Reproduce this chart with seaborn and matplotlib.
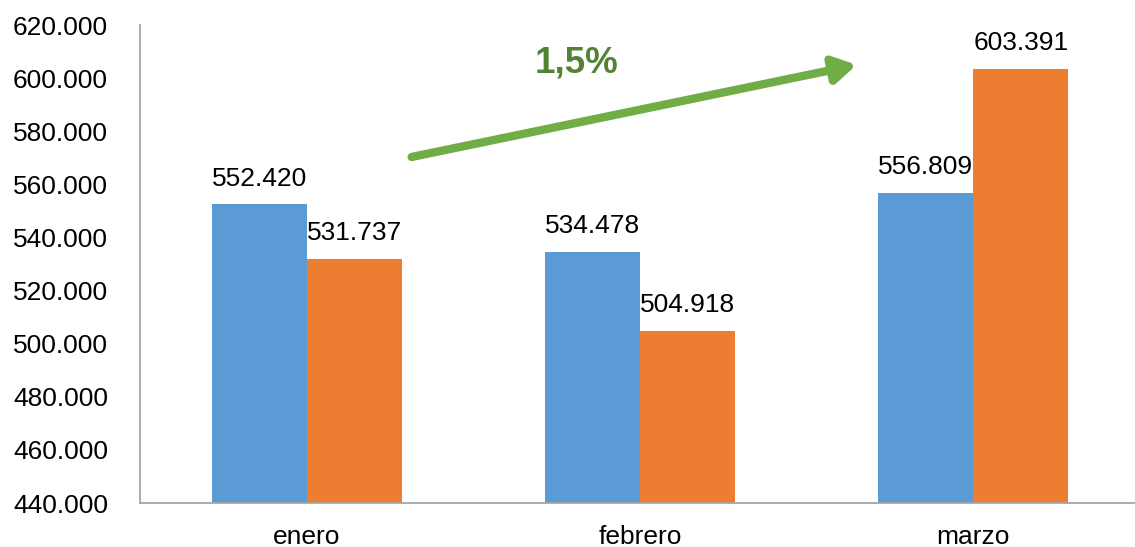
import matplotlib
matplotlib.use("Agg")
import matplotlib.pyplot as plt
import seaborn as sns
import pandas as pd

months = ["enero", "febrero", "marzo"]
series_names = ["Serie 1", "Serie 2"]
serie1 = [552420, 534478, 556809]
serie2 = [531737, 504918, 603391]
y_ticks = [440000, 460000, 480000, 500000, 520000, 540000, 560000, 580000, 600000, 620000]
growth_label = "1,5%"

df = pd.DataFrame({
    "mes": months * 2,
    "serie": [series_names[0]] * 3 + [series_names[1]] * 3,
    "valor": serie1 + serie2,
})

sns.set_theme(style="white")
plt.rcParams["font.family"] = ["Liberation Sans", "DejaVu Sans"]

fig = plt.figure(figsize=(11.35, 5.47), dpi=100)
ax = fig.add_axes([140 / 1135, 1 - 503 / 547, 1000 / 1135, (503 - 25) / 547])

palette = {series_names[0]: "#5B9BD5", series_names[1]: "#ED7D31"}
sns.barplot(data=df, x="mes", y="valor", hue="serie", palette=palette,
            width=0.57, saturation=1, linewidth=0, ax=ax, legend=False)

ax.set_ylim(y_ticks[0], y_ticks[-1])
ax.set_yticks(y_ticks)
ax.set_yticklabels([f"{v:,}".replace(",", ".") for v in y_ticks])
ax.set_xlim(-0.5, 2.5)
ax.set_xlabel("")
ax.set_ylabel("")
ax.tick_params(axis="both", length=0, labelsize=19, colors="black")
ax.tick_params(axis="y", pad=23)
ax.tick_params(axis="x", pad=16)

for side in ["top", "right"]:
    ax.spines[side].set_visible(False)
for side in ["left", "bottom"]:
    ax.spines[side].set_color("#A6A6A6")
    ax.spines[side].set_linewidth(1.3)

for container in ax.containers:
    ax.bar_label(container, labels=[f"{v:,.0f}".replace(",", ".") for v in container.datavalues],
                 padding=10, fontsize=19, color="black")

# trend arrow between months
ax.annotate("", xy=(1.65, 605000), xytext=(0.315, 570300),
            arrowprops=dict(arrowstyle="-|>,head_length=1.1,head_width=0.65",
                            color="#70AD47", lw=6, shrinkA=0, shrinkB=0),
            annotation_clip=False)
ax.text(0.81, 605600, growth_label, ha="center", va="center",
        fontsize=26.5, fontweight="bold", color="#548235")

fig.savefig("out.png", dpi=100, facecolor="white")
